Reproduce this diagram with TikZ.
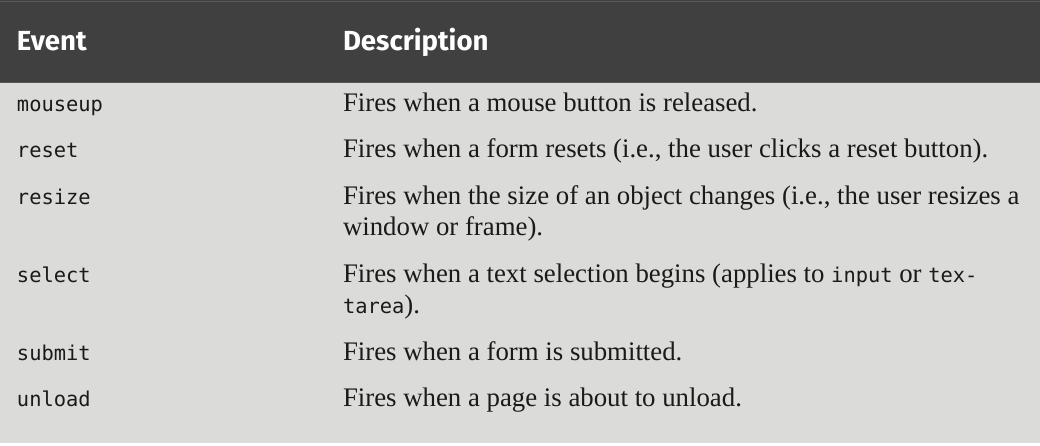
\documentclass[tikz,border=0pt]{standalone}
\usepackage{fontspec}
\setmainfont{Liberation Serif}
\newfontfamily\headfont{Fira Sans}
\setmonofont{DejaVu Sans Mono}
\definecolor{headbg}{HTML}{404040}
\definecolor{headline}{HTML}{575757}
\definecolor{bodybg}{HTML}{DBDBD9}
\definecolor{ink}{HTML}{1A1A1A}
\newcommand\evmono[1]{{\ttfamily\fontsize{10.2}{12}\selectfont #1}}
\begin{document}
\begin{tikzpicture}[x=0.5pt,y=-0.5pt,
  every node/.style={inner sep=0pt, outer sep=0pt, anchor=base west},
  head/.style={text=white, font=\headfont\bfseries\fontsize{13.8}{16}\selectfont},
  ev/.style={text=ink, font=\ttfamily\fontsize{10.2}{12}\selectfont},
  desc/.style={text=ink, font=\fontsize{13.4}{15.5}\selectfont}]
\useasboundingbox (0,0) rectangle (1040,445);
\fill[white] (0,0) rectangle (1040,445);
\fill[bodybg] (0,83) rectangle (1040,443);
\fill[headbg] (0,0) rectangle (1040,83);
\draw[headline, line width=0.5pt] (0,1) -- (1040,1);
\draw[headline, line width=0.5pt] (0,82) -- (1040,82);
% header
\node[head] (hE) at (17,50) {Event};
\node[head] (hD) at (343,50) {Description};
% rows
\node[ev] (e1) at (17,111) {mouseup};
\node[desc] (d1) at (343,111) {Fires when a mouse button is released.};
\node[ev] (e2) at (17,157) {reset};
\node[desc] (d2) at (343,157) {Fires when a form resets (i.e., the user clicks a reset button).};
\node[ev] (e3) at (17,204) {resize};
\node[desc] (d3a) at (343,204) {Fires when the size of an object changes (i.e., the user resizes a};
\node[desc] (d3b) at (343,235) {window or frame).};
\node[ev] (e4) at (17,282) {select};
\node[desc] (d4a) at (343,282) {Fires when a text selection begins (applies to \evmono{input} or \evmono{tex-}};
\node[desc] (d4b) at (343,313) {\evmono{tarea}).};
\node[ev] (e5) at (17,360) {submit};
\node[desc] (d5) at (343,360) {Fires when a form is submitted.};
\node[ev] (e6) at (17,406) {unload};
\node[desc] (d6) at (343,406) {Fires when a page is about to unload.};
\end{tikzpicture}
\end{document}
